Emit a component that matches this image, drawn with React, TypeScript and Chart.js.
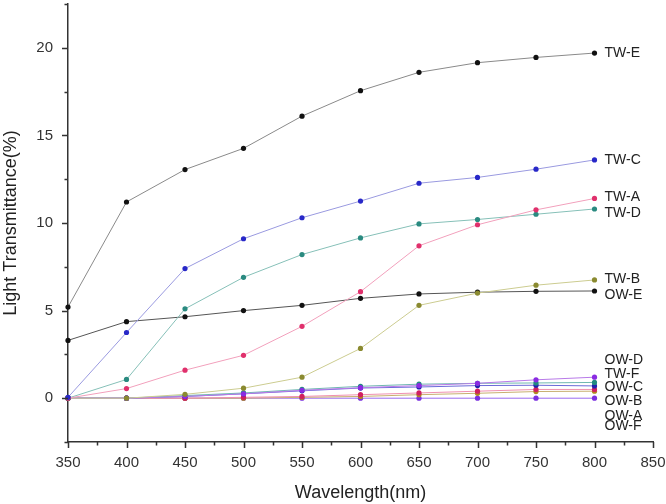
import React, { useEffect, useRef } from 'react';
import { Chart, registerables } from 'chart.js';

Chart.register(...registerables);

// ---- Data ----
const wavelengths = [350, 400, 450, 500, 550, 600, 650, 700, 750, 800];

const twE = [5.2, 11.2, 13.05, 14.26, 16.1, 17.55, 18.6, 19.15, 19.45, 19.7];
const twC = [0.05, 3.75, 7.4, 9.1, 10.3, 11.25, 12.27, 12.6, 13.07, 13.6];
const twA = [0.0, 0.55, 1.6, 2.45, 4.1, 6.08, 8.7, 9.9, 10.75, 11.4];
const twD = [0.0, 1.07, 5.1, 6.9, 8.2, 9.15, 9.95, 10.2, 10.5, 10.8];
const twB = [0.0, 0.0, 0.22, 0.57, 1.2, 2.84, 5.3, 6.0, 6.45, 6.75];
const owE = [3.3, 4.37, 4.65, 5.0, 5.3, 5.7, 5.95, 6.05, 6.1, 6.12];
const owD = [0.0, 0.0, 0.1, 0.25, 0.45, 0.6, 0.72, 0.85, 1.05, 1.2];
const twF = [0.0, 0.0, 0.15, 0.3, 0.5, 0.68, 0.8, 0.85, 0.87, 0.9];
const owC = [0.0, 0.0, 0.1, 0.25, 0.42, 0.58, 0.64, 0.72, 0.74, 0.7];
const owB = [0.0, 0.0, 0.0, 0.05, 0.1, 0.2, 0.3, 0.4, 0.5, 0.5];
const owA = [0.0, 0.0, 0.0, 0.0, 0.05, 0.1, 0.2, 0.28, 0.38, 0.4];
const owF = [0.0, 0.0, 0.0, 0.0, 0.0, 0.0, 0.0, 0.0, 0.0, 0.0];

const seriesNames = ['TW-E', 'TW-C', 'TW-A', 'TW-D', 'TW-B', 'OW-E', 'OW-D', 'TW-F', 'OW-C', 'OW-B', 'OW-A', 'OW-F'];
const seriesValues = [twE, twC, twA, twD, twB, owE, owD, twF, owC, owB, owA, owF];
// where each name label sits vertically (data units), at the right end
const labelYValues = [19.7, 13.6, 11.5, 10.55, 6.8, 5.9, 2.2, 1.4, 0.65, -0.15, -1.0, -1.6];
const labelAtWavelength = 800;

const lineColors = ['#8a8a8a', '#9a9ae0', '#f2a0bc', '#86c0b8', '#cccc90', '#555555', '#b87ae8', '#70b8b0', '#6a6ad8', '#f090b0', '#c8b070', '#9a6af0'];
const pointColors = ['#111111', '#2828c8', '#e0306c', '#2a8a80', '#8a8a30', '#111111', '#8a2be2', '#208a80', '#2020b0', '#d02060', '#b08a20', '#7a30e0'];

const xTickStep = 25;
const yTickStep = 2.5;

const FONT = '"Liberation Sans", Arial, Helvetica, sans-serif';
const AXIS_COLOR = '#333333';

const labelPlugin = {
  id: 'seriesLabels',
  afterDatasetsDraw(chart: any) {
    const { ctx, scales } = chart;
    const x = scales.x;
    const y = scales.y;
    ctx.save();
    ctx.font = `14px ${FONT}`;
    ctx.fillStyle = '#222222';
    ctx.textBaseline = 'middle';
    ctx.textAlign = 'left';
    seriesNames.forEach((n, i) => {
      ctx.fillText(n, x.getPixelForValue(labelAtWavelength) + 10, y.getPixelForValue(labelYValues[i]));
    });
    ctx.restore();
  },
};

const tickPlugin = {
  id: 'axisTicks',
  afterDraw(chart: any) {
    const { ctx, scales } = chart;
    const x = scales.x;
    const y = scales.y;
    ctx.save();
    ctx.strokeStyle = AXIS_COLOR;
    ctx.lineWidth = 1.5;
    ctx.beginPath();
    x.ticks.forEach((t: any) => {
      const px = Math.round(x.getPixelForValue(t.value)) + 0.5;
      const major = Math.abs(t.value % 50) < 1e-6;
      ctx.moveTo(px, x.top);
      ctx.lineTo(px, x.top + (major ? 6 : 3.5));
    });
    y.ticks.forEach((t: any) => {
      const py = Math.round(y.getPixelForValue(t.value)) + 0.5;
      const major = Math.abs(t.value % 5) < 1e-6;
      ctx.moveTo(y.right, py);
      ctx.lineTo(y.right - (major ? 6 : 3.5), py);
    });
    ctx.stroke();
    ctx.restore();
  },
};

export default function App() {
  const canvasRef = useRef<HTMLCanvasElement | null>(null);

  useEffect(() => {
    document.body.style.margin = '0';
    const canvas = canvasRef.current;
    if (!canvas) return;

    const datasets = seriesNames.map((name, i) => ({
      label: name,
      data: wavelengths.map((w, j) => ({ x: w, y: seriesValues[i][j] })),
      borderColor: lineColors[i],
      backgroundColor: pointColors[i],
      pointBackgroundColor: pointColors[i],
      pointBorderColor: pointColors[i],
      pointBorderWidth: 0,
      pointRadius: 2.6,
      borderWidth: 1,
      tension: 0,
      fill: false,
      clip: false as any,
    }));

    const chart = new Chart(canvas, {
      type: 'line',
      data: { datasets },
      options: {
        responsive: false,
        animation: false,
        maintainAspectRatio: false,
        layout: { padding: { left: 0, top: 2, right: 13, bottom: 0 } },
        plugins: {
          legend: { display: false },
          tooltip: { enabled: false },
        },
        scales: {
          x: {
            type: 'linear',
            min: 350,
            max: 850,
            grid: { display: false },
            border: { display: true, color: AXIS_COLOR, width: 1.5 },
            ticks: {
              stepSize: xTickStep,
              autoSkip: false,
              maxRotation: 0,
              padding: 4,
              color: '#333333',
              font: { family: FONT, size: 15 },
              callback: (v: any) => (Math.abs(Number(v) % 50) < 1e-6 ? String(v) : ''),
            },
            title: {
              display: true,
              text: 'Wavelength(nm)',
              color: '#222222',
              font: { family: FONT, size: 18 },
              padding: { top: 4, bottom: 0 },
            },
            afterFit: (s: any) => {
              s.height = 62;
              s.paddingLeft = 0;
              s.paddingRight = 0;
            },
          },
          y: {
            type: 'linear',
            min: -2.5,
            max: 22.5,
            grid: { display: false },
            border: { display: true, color: AXIS_COLOR, width: 1.5 },
            ticks: {
              stepSize: yTickStep,
              autoSkip: false,
              padding: 7,
              color: '#333333',
              font: { family: FONT, size: 15 },
              callback: (v: any) => (Math.abs(Number(v) % 5) < 1e-6 ? String(v) : ''),
            },
            title: {
              display: true,
              text: 'Light Transmittance(%)',
              color: '#222222',
              font: { family: FONT, size: 18 },
              padding: { top: 0, bottom: 4 },
            },
            afterFit: (s: any) => {
              s.width = 68;
              s.paddingTop = 0;
              s.paddingBottom = 0;
            },
          },
        },
      },
      plugins: [labelPlugin, tickPlugin],
    });

    return () => {
      chart.destroy();
    };
  }, []);

  return (
    <div style={{ width: 666, height: 504, background: '#ffffff' }}>
      <canvas ref={canvasRef} width={666} height={504} style={{ display: 'block' }} />
    </div>
  );
}
